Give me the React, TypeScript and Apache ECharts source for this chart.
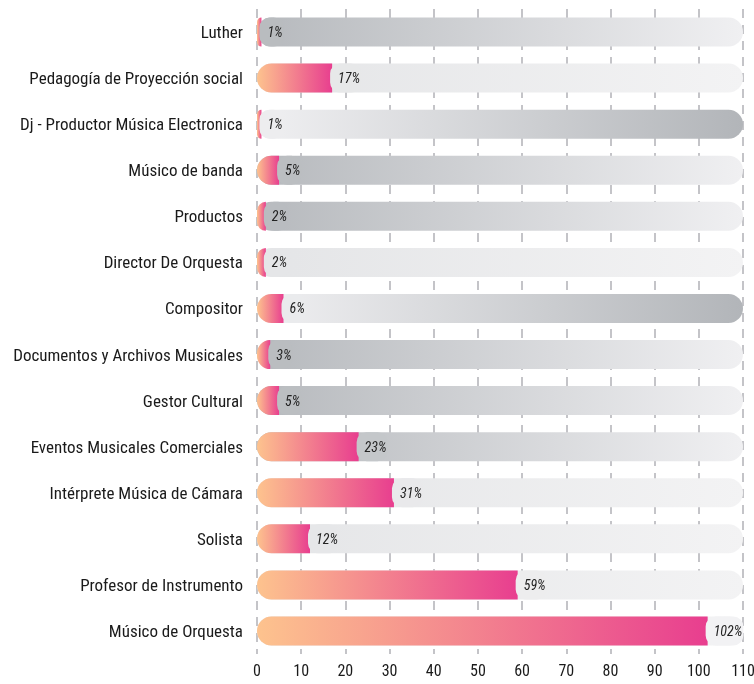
import React, { useEffect, useRef } from "react";
import * as echarts from "echarts";

const categories: string[] = [
  "Luther",
  "Pedagogía de Proyección social",
  "Dj - Productor Música Electronica",
  "Músico de banda",
  "Productos",
  "Director De Orquesta",
  "Compositor",
  "Documentos y Archivos Musicales",
  "Gestor Cultural",
  "Eventos Musicales Comerciales",
  "Intérprete Música de Cámara",
  "Solista",
  "Profesor de Instrumento",
  "Músico de Orquesta",
];

const values: number[] = [1, 17, 1, 5, 2, 2, 6, 3, 5, 23, 31, 12, 59, 102];

const axisMax = 110;
const axisInterval = 10;

// track style per row (gradient tone)
const trackTones: string[] = [
  "grayToLight",
  "light",
  "lightToGray",
  "grayToLight",
  "grayToLight",
  "light",
  "lightToGray",
  "grayToLight",
  "grayToLight",
  "grayToLight",
  "light",
  "light",
  "light",
  "light",
];

const TONES: Record<string, [string, string]> = {
  grayToLight: ["#b6b9bd", "#f0f0f2"],
  light: ["#e4e5e7", "#f3f3f4"],
  lightToGray: ["#f0f0f2", "#b2b5b9"],
};

const FONT = "'Liberation Sans Narrow', 'Arial Narrow', 'Roboto Condensed', sans-serif";

function hexToRgb(h: string) {
  const n = parseInt(h.slice(1), 16);
  return [(n >> 16) & 255, (n >> 8) & 255, n & 255];
}
function mix(a: string, b: string, t: number) {
  const A = hexToRgb(a);
  const B = hexToRgb(b);
  const c = A.map((x, i) => Math.round(x + (B[i] - x) * t));
  return `rgb(${c[0]},${c[1]},${c[2]})`;
}

export default function App() {
  const ref = useRef<HTMLDivElement>(null);
  useEffect(() => {
    if (!ref.current) return;
    const chart = echarts.init(ref.current, undefined, { renderer: "svg" });
    const barW = 29;

    const trackData = categories.map((_, i) => {
      const [c0, c1] = TONES[trackTones[i]];
      return {
        value: axisMax,
        itemStyle: {
          color: new echarts.graphic.LinearGradient(0, 0, 1, 0, [
            { offset: 0, color: c0 },
            { offset: 1, color: c1 },
          ]),
        },
      };
    });

    const valueData = values.map((v, i) => {
      const [c0, c1] = TONES[trackTones[i]];
      const t = Math.min(1, (v + 4) / axisMax);
      return {
        value: v,
        label: { backgroundColor: mix(c0, c1, t) },
      };
    });

    chart.setOption({
      animation: false,
      grid: {
        left: 257,
        right: 11,
        top: 9,
        bottom: 30,
        containLabel: false,
        outerBoundsMode: "none",
      },
      xAxis: {
        type: "value",
        min: 0,
        max: axisMax,
        interval: axisInterval,
        axisLine: { show: false },
        axisTick: { show: false },
        axisLabel: {
          color: "#1a1a1a",
          fontSize: 16,
          fontFamily: FONT,
          margin: 8,
        },
        splitLine: {
          show: true,
          lineStyle: { color: "#c4c4c8", width: 2, type: [9, 7] },
        },
      },
      yAxis: {
        type: "category",
        data: categories,
        inverse: true,
        axisLine: { show: false },
        axisTick: { show: false },
        axisLabel: {
          color: "#1a1a1a",
          fontSize: 17,
          fontFamily: FONT,
          margin: 14,
        },
      },
      series: [
        {
          type: "bar",
          data: trackData,
          barWidth: barW,
          barGap: "-100%",
          silent: true,
          itemStyle: { borderRadius: 14.5 },
          z: 2,
        },
        {
          type: "bar",
          data: valueData,
          barWidth: barW,
          barGap: "-100%",
          z: 3,
          itemStyle: {
            borderRadius: [14.5, 0, 0, 14.5],
            color: new echarts.graphic.LinearGradient(0, 0, 1, 0, [
              { offset: 0, color: "#fdc38e" },
              { offset: 1, color: "#e83e8f" },
            ]),
          },
          label: {
            show: true,
            position: "right",
            distance: -2,
            formatter: "{c}%",
            fontFamily: FONT,
            fontStyle: "italic",
            fontSize: 14,
            color: "#222",
            height: barW,
            lineHeight: barW,
            padding: [0, 1, 0, 8],
            borderRadius: 10,
          },
        },
      ],
    });
    return () => chart.dispose();
  }, []);

  return (
    <div
      ref={ref}
      style={{ position: "fixed", left: 0, top: 0, width: 754, height: 684 }}
    />
  );
}
